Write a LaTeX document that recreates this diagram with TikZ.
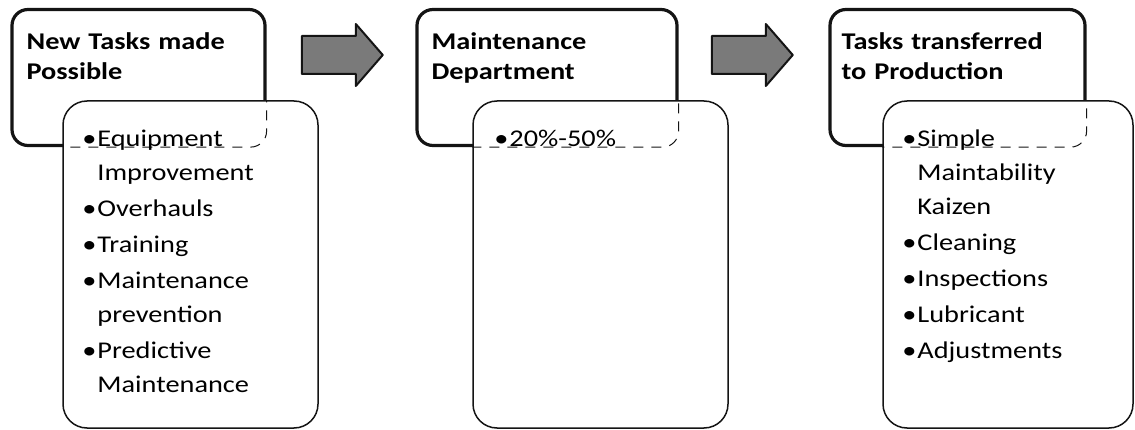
\documentclass[tikz,border=0pt]{standalone}
\usepackage{fontspec}
\setmainfont{Carlito}[FakeStretch=1.18]
\usepackage{tikz}
\usetikzlibrary{positioning,shapes.arrows}
\definecolor{ink}{HTML}{141414}
\definecolor{grit}{HTML}{7A7A7A}
\newcommand{\itm}[1]{\hangindent=15pt\hangafter=1\noindent\makebox[15pt][l]{\textbullet}#1\par}
\tikzset{
  hdrbox/.style   = {rectangle, rounded corners=16pt, draw=ink, line width=3.2pt, inner sep=0pt,
                     minimum height=136pt, minimum width=#1},
  bodybox/.style  = {rectangle, rounded corners=24pt, draw=ink, fill=white, line width=1.5pt, inner sep=0pt,
                     minimum height=327pt, minimum width=#1},
  hidden/.style   = {draw=ink, line width=1pt, dash pattern=on 10pt off 8pt, rounded corners=16pt},
  hdrtext/.style  = {anchor=base west, inner sep=0pt, text width=230pt,
                     font=\fontsize{24}{30}\selectfont\bfseries},
  bodytext/.style = {anchor=base west, inner sep=0pt, text width=225pt,
                     font=\fontsize{24}{34}\selectfont\setlength{\parskip}{2pt}},
  blockarrow/.style = {single arrow, draw=ink, fill=grit, line width=2pt, inner xsep=0pt, inner ysep=18pt,
                     minimum height=81pt, single arrow head extend=12pt, single arrow tip angle=98},
}

\begin{document}
\begin{tikzpicture}[x=1pt, y=-1pt, line join=round]
  \useasboundingbox (0,0) rectangle (1135,430);

  %% ---------------- column 1: new tasks ---------------------------------
  \node[hdrbox=253pt] (h1) at (138.5,77.5) {};
  \node[hdrtext] (t1) at ([shift={(16,42)}]h1.north west) {New Tasks made\\Possible};
  \node[bodybox=255pt] (b1) at (190.5,264.5) {};
  \begin{scope}
    \clip[rounded corners=24pt] (b1.south west) rectangle (b1.north east);
    \draw[hidden] (h1.south west) rectangle (h1.north east);
  \end{scope}
  \node[bodytext] (l1) at ([shift={(20,46)}]b1.north west)
    {\itm{Equipment\newline Improvement}
     \itm{Overhauls}
     \itm{Training}
     \itm{Maintenance\newline prevention}
     \itm{Predictive\newline Maintenance}};

  \node[blockarrow] (a1) at (334,55) {};

  %% ---------------- column 2: maintenance department --------------------
  \node[hdrbox=260pt] (h2) at (547,77.5) {};
  \node[hdrtext] (t2) at ([shift={(16,42)}]h2.north west) {Maintenance\\Department};
  \node[bodybox=255pt] (b2) at (600.5,264.5) {};
  \begin{scope}
    \clip[rounded corners=24pt] (b2.south west) rectangle (b2.north east);
    \draw[hidden] (h2.south west) rectangle (h2.north east);
  \end{scope}
  \node[bodytext] (l2) at ([shift={(22,46)}]b2.north west) {\itm{20\%-50\%}};

  \node[blockarrow] (a2) at (744,55) {};

  %% ---------------- column 3: tasks transferred -------------------------
  \node[hdrbox=255pt] (h3) at (957.5,77.5) {};
  \node[hdrtext] (t3) at ([shift={(13,42)}]h3.north west) {Tasks transferred\\to Production};
  \node[bodybox=250pt] (b3) at (1008,264.5) {};
  \begin{scope}
    \clip[rounded corners=24pt] (b3.south west) rectangle (b3.north east);
    \draw[hidden] (h3.south west) rectangle (h3.north east);
  \end{scope}
  \node[bodytext] (l3) at ([shift={(20,46)}]b3.north west)
    {\itm{Simple\newline Maintability\newline Kaizen}
     \itm{Cleaning}
     \itm{Inspections}
     \itm{Lubricant}
     \itm{Adjustments}};
\end{tikzpicture}
\end{document}
